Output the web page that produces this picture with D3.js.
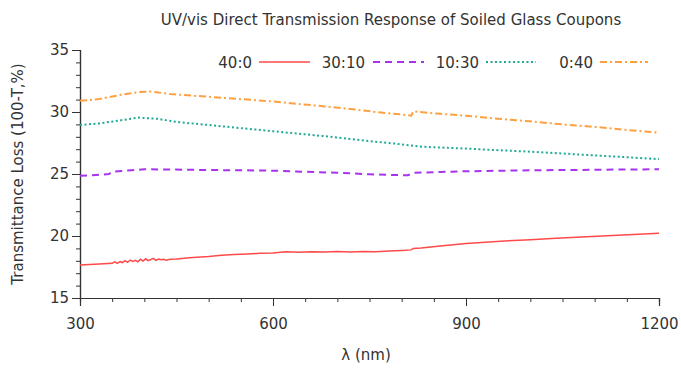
<!DOCTYPE html>
<html><head><meta charset="utf-8">
<script src="https://cdn.jsdelivr.net/npm/d3@7"></script>
<style>body{margin:0;background:#fff}svg{display:block}text{font-family:"DejaVu Sans",Verdana,sans-serif;fill:#333}</style>
</head><body><svg id="c" width="681" height="368"></svg>
<script>
const seriesNames = ["40:0","30:10","10:30","0:40"];
const xTicks = [300,600,900,1200];
const yTicks = [15,20,25,30,35];
// wavelength (nm) samples and values for each series
const wl40_0 = [300,330,350,354,358,362,366,370,374,378,382,386,390,394,398,402,406,410,414,418,422,426,430,434,438,442,450,470,500,520,540,560,580,600,620,640,660,680,700,720,740,760,780,800,815,818,830,860,900,930,960,1000,1040,1080,1120,1160,1200];
const v40_0 = [17.66,17.74,17.8,17.92,17.8,17.94,17.86,18.02,17.88,18.06,17.95,18.04,17.92,18.12,17.98,18.16,18.02,18.1,18.2,18.04,18.14,18.08,18.12,18.05,18.1,18.12,18.15,18.25,18.35,18.45,18.5,18.55,18.6,18.62,18.72,18.68,18.72,18.7,18.74,18.7,18.75,18.72,18.8,18.84,18.88,19.0,19.04,19.2,19.4,19.5,19.6,19.7,19.82,19.92,20.02,20.12,20.22];
const wl30_10 = [300,320,345,350,380,400,440,500,560,600,650,700,750,780,810,818,860,900,960,1000,1080,1140,1200];
const v30_10 = [24.86,24.9,25.0,25.18,25.3,25.38,25.36,25.32,25.3,25.27,25.18,25.1,24.98,24.93,24.9,25.1,25.16,25.22,25.27,25.3,25.33,25.36,25.38];
const wl10_30 = [300,330,360,390,420,450,500,550,600,650,700,750,790,815,830,900,950,1000,1050,1100,1150,1200];
const v10_30 = [28.95,29.08,29.3,29.55,29.45,29.2,28.95,28.7,28.45,28.2,27.95,27.65,27.45,27.3,27.2,27.05,26.92,26.8,26.65,26.5,26.35,26.2];
const wl0_40 = [300,330,360,390,410,440,480,520,560,600,640,680,720,760,800,815,818,860,900,950,1000,1050,1100,1150,1200];
const v0_40 = [30.9,31.05,31.35,31.6,31.65,31.45,31.3,31.15,31.0,30.85,30.65,30.45,30.25,30.0,29.8,29.7,30.05,29.85,29.7,29.45,29.25,29.0,28.8,28.55,28.33];

const series = [
  {name:seriesNames[0], x:wl40_0, y:v40_0, color:"#ff4a4a", dash:null, w:1.5},
  {name:seriesNames[1], x:wl30_10, y:v30_10, color:"#a733ee", dash:"7,5", w:2},
  {name:seriesNames[2], x:wl10_30, y:v10_30, color:"#1faa98", dash:"2,2.5", w:2},
  {name:seriesNames[3], x:wl0_40, y:v0_40, color:"#ffa040", dash:"7,3,2,3", w:2}
];

const svg = d3.select("#c");
const x = d3.scaleLinear().domain([300,1200]).range([80,659]);
const y = d3.scaleLinear().domain([15,35]).range([298,50]);

// Title
svg.append("text").attr("x",391).attr("y",25).attr("text-anchor","middle")
  .style("font-size","15px").text("UV/vis Direct Transmission Response of Soiled Glass Coupons");

// x axis
const gx = svg.append("g").attr("transform","translate(0,298)");
gx.call(d3.axisBottom(x).tickValues(d3.range(300,1201,50)).tickSize(4).tickFormat(""));
gx.append("g").call(d3.axisBottom(x).tickValues(xTicks).tickSize(8).tickFormat(d3.format("d")));
gx.selectAll(".domain").attr("stroke","#333").attr("stroke-width",1.2);
gx.selectAll("line").attr("stroke","#333");
gx.selectAll("text").style("font-size","15px").style("font-family","DejaVu Sans, Verdana, sans-serif").attr("fill","#333").attr("dy","1.3em");

// y axis
const gy = svg.append("g").attr("transform","translate(80,0)");
gy.call(d3.axisLeft(y).tickValues(d3.range(15,35.01,1)).tickSize(4).tickFormat(""));
gy.append("g").call(d3.axisLeft(y).tickValues(yTicks).tickSize(8).tickFormat(d3.format("d")));
gy.selectAll(".domain").attr("stroke","#333").attr("stroke-width",1.2);
gy.selectAll("line").attr("stroke","#333");
gy.selectAll("text").style("font-size","15px").style("font-family","DejaVu Sans, Verdana, sans-serif").attr("fill","#333");

// axis labels
svg.append("text").attr("transform","translate(23,174) rotate(-90)").attr("text-anchor","middle")
  .style("font-size","15px").text("Transmittance Loss (100-T,%)");
svg.append("text").attr("x",366).attr("y",360).attr("text-anchor","middle")
  .style("font-size","15px").text("λ (nm)");

// lines
const line = d3.line().x(d=>x(d[0])).y(d=>y(d[1]));
series.forEach(s=>{
  const pts = s.x.map((v,i)=>[v,s.y[i]]);
  svg.append("path").attr("d",line(pts)).attr("fill","none").attr("stroke",s.color)
    .attr("stroke-width",s.w).attr("stroke-dasharray",s.dash);
});

// legend
const leg = [
  {tx:252, l1:259, l2:310},
  {tx:365, l1:373, l2:424},
  {tx:479, l1:486, l2:536},
  {tx:593, l1:600, l2:648}
];
series.forEach((s,i)=>{
  svg.append("text").attr("x",leg[i].tx).attr("y",68).attr("text-anchor","end").style("font-size","15px").text(s.name);
  svg.append("line").attr("x1",leg[i].l1).attr("x2",leg[i].l2).attr("y1",62).attr("y2",62)
    .attr("stroke",s.color).attr("stroke-width",s.w).attr("stroke-dasharray",s.dash);
});
</script></body></html>
